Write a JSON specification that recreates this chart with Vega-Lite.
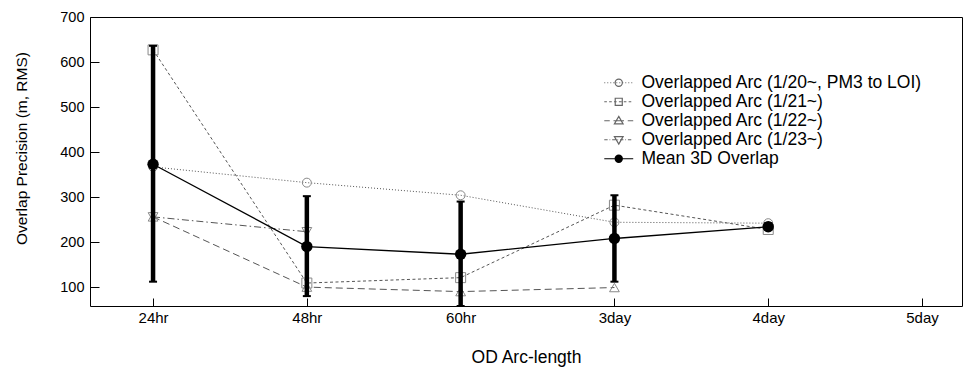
{
  "$schema": "https://vega.github.io/schema/vega-lite/v6.json",
  "width": 872,
  "height": 289,
  "autosize": "none",
  "padding": {"left": 90, "top": 17, "right": 16, "bottom": 69},
  "background": "white",
  "config": {
    "font": "Liberation Sans",
    "view": {"stroke": "black", "strokeWidth": 1},
    "axis": {"grid": false, "domain": false, "tickColor": "black", "tickWidth": 1, "labelColor": "black", "titleColor": "black", "titleFontWeight": "normal", "labelFont": "Liberation Sans", "titleFont": "Liberation Sans"}
  },
  "data": {
    "values": [
      {"series": "Overlapped Arc (1/20~, PM3 to LOI)", "x": 1, "value": 367},
      {"series": "Overlapped Arc (1/20~, PM3 to LOI)", "x": 2, "value": 332},
      {"series": "Overlapped Arc (1/20~, PM3 to LOI)", "x": 3, "value": 304},
      {"series": "Overlapped Arc (1/20~, PM3 to LOI)", "x": 4, "value": 244},
      {"series": "Overlapped Arc (1/20~, PM3 to LOI)", "x": 5, "value": 242},
      {"series": "Overlapped Arc (1/21~)", "x": 1, "value": 627},
      {"series": "Overlapped Arc (1/21~)", "x": 2, "value": 109},
      {"series": "Overlapped Arc (1/21~)", "x": 3, "value": 121},
      {"series": "Overlapped Arc (1/21~)", "x": 4, "value": 282},
      {"series": "Overlapped Arc (1/21~)", "x": 5, "value": 228},
      {"series": "Overlapped Arc (1/22~)", "x": 1, "value": 256},
      {"series": "Overlapped Arc (1/22~)", "x": 2, "value": 100},
      {"series": "Overlapped Arc (1/22~)", "x": 3, "value": 90},
      {"series": "Overlapped Arc (1/22~)", "x": 4, "value": 99},
      {"series": "Overlapped Arc (1/23~)", "x": 1, "value": 256},
      {"series": "Overlapped Arc (1/23~)", "x": 2, "value": 223},
      {"series": "Mean 3D Overlap", "x": 1, "value": 373, "lo": 112, "hi": 636},
      {"series": "Mean 3D Overlap", "x": 2, "value": 190, "lo": 80, "hi": 302},
      {"series": "Mean 3D Overlap", "x": 3, "value": 173, "lo": 58, "hi": 290},
      {"series": "Mean 3D Overlap", "x": 4, "value": 208, "lo": 112, "hi": 304},
      {"series": "Mean 3D Overlap", "x": 5, "value": 234, "lo": 228, "hi": 242}
    ]
  },
  "encoding": {
    "x": {
      "field": "x", "type": "quantitative",
      "scale": {"domain": [0.59, 6.26], "nice": false, "zero": false},
      "axis": {"values": [1, 2, 3, 4, 5, 6], "labelExpr": "['','24hr','48hr','60hr','3day','4day','5day'][datum.value]", "title": "OD Arc-length", "offset": -8, "tickSize": 8, "labelPadding": 4, "labelFontSize": 15, "titleFontSize": 17.5, "titlePadding": 23}
    },
    "y": {
      "field": "value", "type": "quantitative",
      "scale": {"domain": [58, 700], "nice": false, "zero": false},
      "axis": {"values": [100, 200, 300, 400, 500, 600, 700], "title": "Overlap Precision (m, RMS)", "offset": -9, "tickSize": 9, "labelPadding": 6, "labelFontSize": 14.5, "titleFontSize": 15.5, "titlePadding": 30, "titleY": 131}
    }
  },
  "layer": [
    {
      "transform": [{"filter": "datum.series != 'Mean 3D Overlap'"}],
      "mark": {"type": "line", "stroke": "#555", "strokeWidth": 1},
      "encoding": {
        "strokeDash": {
          "field": "series", "type": "nominal", "legend": null,
          "scale": {
            "domain": ["Overlapped Arc (1/20~, PM3 to LOI)", "Overlapped Arc (1/21~)", "Overlapped Arc (1/22~)", "Overlapped Arc (1/23~)"],
            "range": [[1, 2], [3, 2.5], [7, 4], [7, 3, 1.5, 3]]
          }
        }
      }
    },
    {
      "transform": [{"filter": "datum.series == 'Overlapped Arc (1/20~, PM3 to LOI)'"}],
      "mark": {"type": "point", "shape": "circle", "filled": false, "stroke": "#888", "strokeWidth": 1, "size": 80, "opacity": 1}
    },
    {
      "transform": [{"filter": "datum.series == 'Overlapped Arc (1/21~)'"}],
      "mark": {"type": "point", "shape": "square", "filled": false, "stroke": "#888", "strokeWidth": 1, "size": 100, "opacity": 1}
    },
    {
      "transform": [{"filter": "datum.series == 'Overlapped Arc (1/22~)'"}],
      "mark": {"type": "point", "shape": "triangle-up", "filled": false, "stroke": "#888", "strokeWidth": 1, "size": 95, "opacity": 1}
    },
    {
      "transform": [{"filter": "datum.series == 'Overlapped Arc (1/23~)'"}],
      "mark": {"type": "point", "shape": "triangle-down", "filled": false, "stroke": "#888", "strokeWidth": 1, "size": 95, "opacity": 1}
    },
    {
      "transform": [{"filter": "datum.series == 'Mean 3D Overlap'"}],
      "mark": {"type": "line", "stroke": "black", "strokeWidth": 1.3}
    },
    {
      "transform": [{"filter": "datum.series == 'Mean 3D Overlap'"}],
      "mark": {"type": "rule", "stroke": "black", "strokeWidth": 4.5},
      "encoding": {"y": {"field": "lo", "type": "quantitative"}, "y2": {"field": "hi"}}
    },
    {
      "transform": [{"filter": "datum.series == 'Mean 3D Overlap'"}],
      "mark": {"type": "point", "shape": "M-1,-0.25H1V0.25H-1Z", "filled": true, "fill": "black", "size": 64, "opacity": 1},
      "encoding": {"y": {"field": "lo", "type": "quantitative"}}
    },
    {
      "transform": [{"filter": "datum.series == 'Mean 3D Overlap'"}],
      "mark": {"type": "point", "shape": "M-1,-0.25H1V0.25H-1Z", "filled": true, "fill": "black", "size": 64, "opacity": 1},
      "encoding": {"y": {"field": "hi", "type": "quantitative"}}
    },
    {
      "transform": [{"filter": "datum.series == 'Mean 3D Overlap'"}],
      "mark": {"type": "point", "shape": "circle", "filled": true, "fill": "black", "size": 130, "opacity": 1}
    },
    {
      "mark": {"type": "point", "opacity": 0, "filled": false},
      "encoding": {
        "shape": {
          "field": "series", "type": "nominal",
          "scale": {
            "domain": ["Overlapped Arc (1/20~, PM3 to LOI)", "Overlapped Arc (1/21~)", "Overlapped Arc (1/22~)", "Overlapped Arc (1/23~)", "Mean 3D Overlap"],
            "range": [
              "M-1.93,0H-1.8M-1.53,0H-1.4M-1.13,0H-1M-0.73,0H-0.6M-0.33,0H-0.2M0.07,0H0.2M0.47,0H0.6M0.87,0H1M1.27,0H1.4M1.67,0H1.8M0.48,0A0.48,0.48,0,1,1,-0.48,0A0.48,0.48,0,1,1,0.48,0Z",
              "M-1.93,0H-1.58M-1.28,0H-0.93M-0.63,0H-0.28M0.02,0H0.37M0.67,0H1.02M1.32,0H1.67M-0.47,-0.47H0.47V0.47H-0.47Z",
              "M-1.93,0H-1.2M-0.7,0H0.7M1.2,0H1.93M0,-0.58L0.58,0.42L-0.58,0.42Z",
              "M-1.93,0H-1.48M-1.23,0H-1.13M-0.88,0H-0.43M-0.18,0H-0.08M0.17,0H0.62M0.87,0H0.97M1.22,0H1.67M0,0.58L0.58,-0.42L-0.58,-0.42Z",
              "M-1.93,0H1.93M0.48,0A0.48,0.48,0,1,1,-0.48,0A0.48,0.48,0,1,1,0.48,0ZM0.35,0A0.35,0.35,0,1,1,-0.35,0A0.35,0.35,0,1,1,0.35,0ZM0.22,0A0.22,0.22,0,1,1,-0.22,0A0.22,0.22,0,1,1,0.22,0ZM0.1,0A0.1,0.1,0,1,1,-0.1,0A0.1,0.1,0,1,1,0.1,0Z"
            ]
          },
          "legend": {
            "orient": "none", "legendX": 520, "legendY": 57, "title": null, "padding": 0,
            "labelFont": "Liberation Sans", "labelFontSize": 17.5, "labelColor": "black", "labelLimit": 400,
            "symbolSize": 225, "symbolStrokeWidth": 1.2, "labelOffset": 14, "rowPadding": 0
          }
        },
        "stroke": {
          "field": "series", "type": "nominal",
          "scale": {
            "domain": ["Overlapped Arc (1/20~, PM3 to LOI)", "Overlapped Arc (1/21~)", "Overlapped Arc (1/22~)", "Overlapped Arc (1/23~)", "Mean 3D Overlap"],
            "range": ["#666", "#666", "#666", "#666", "black"]
          }
        }
      }
    }
  ]
}
